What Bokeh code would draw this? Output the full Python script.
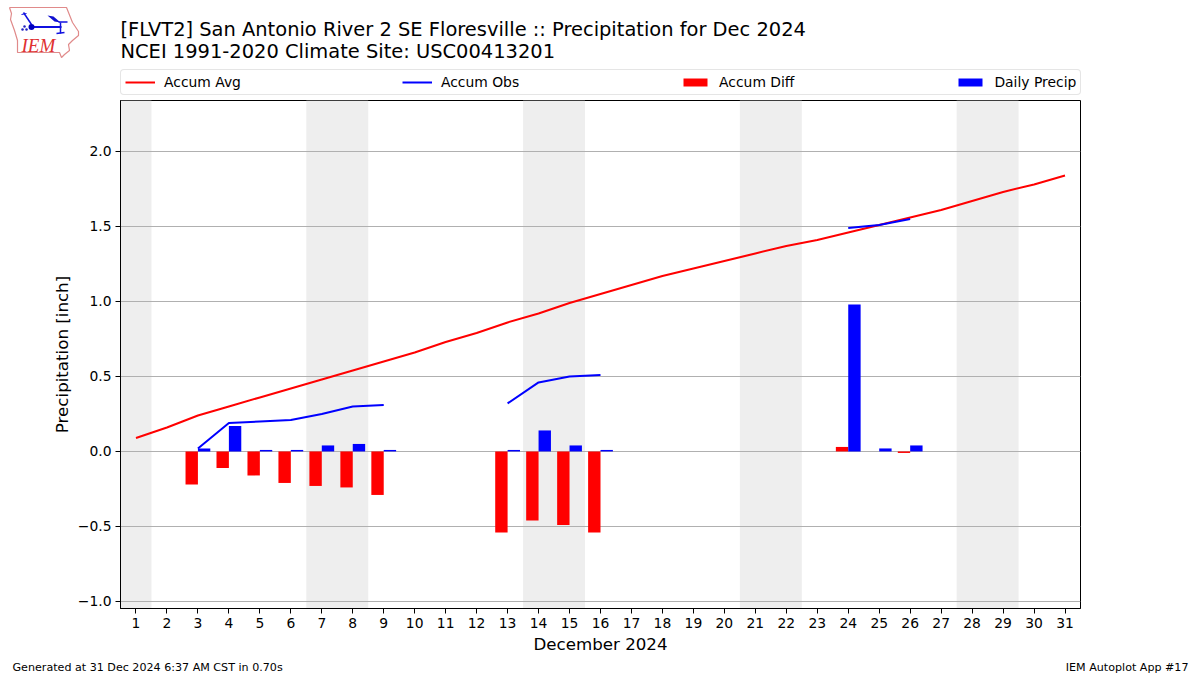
from bokeh.plotting import figure
from bokeh.embed import file_html
from bokeh.resources import INLINE
from bokeh.layouts import column
from bokeh.models import Legend, LegendItem, FixedTicker, ColumnDataSource
from bokeh.core.properties import value

nan = float("nan")
days = list(range(1, 32))
accum_avg = [0.09, 0.16, 0.24, 0.30, 0.36, 0.42, 0.48, 0.54, 0.60, 0.66, 0.73, 0.79, 0.86, 0.92, 0.99, 1.05,
             1.11, 1.17, 1.22, 1.27, 1.32, 1.37, 1.41, 1.46, 1.51, 1.56, 1.61, 1.67, 1.73, 1.78, 1.84]
accum_obs = [nan, nan, 0.02, 0.19, 0.20, 0.21, 0.25, 0.30, 0.31, nan, nan, nan, 0.32, 0.46, 0.50, 0.51,
             nan, nan, nan, nan, nan, nan, nan, 1.49, 1.51, 1.55, nan, nan, nan, nan, nan]
accum_diff = [nan, nan, -0.22, -0.11, -0.16, -0.21, -0.23, -0.24, -0.29, nan, nan, nan, -0.54, -0.46, -0.49, -0.54,
              nan, nan, nan, nan, nan, nan, nan, 0.03, 0.0, -0.01, nan, nan, nan, nan, nan]
daily_precip = [nan, nan, 0.02, 0.17, 0.01, 0.01, 0.04, 0.05, 0.01, nan, nan, nan, 0.01, 0.14, 0.04, 0.01,
                nan, nan, nan, nan, nan, nan, nan, 0.98, 0.02, 0.04, nan, nan, nan, nan, nan]
weekend_left = [0.5, 6.5, 13.5, 20.5, 27.5]
weekend_right = [1.5, 8.5, 15.5, 22.5, 29.5]
y_ticks = [-1.0, -0.5, 0.0, 0.5, 1.0, 1.5, 2.0]
title_lines = ["[FLVT2] San Antonio River 2 SE Floresville :: Precipitation for Dec 2024",
               "NCEI 1991-2020 Climate Site: USC00413201"]
x_title = "December 2024"
y_title = "Precipitation [inch]"
foot_left = "Generated at 31 Dec 2024 6:37 AM CST in 0.70s"
foot_right = "IEM Autoplot App #17"

FONT = "DejaVu Sans"
W = 1192
HEAD_H = 98
FOOT_H = 17
L, R, T, FRAME_H, B = 120, 112, 2, 508, 47
Y0, Y1 = -1.047, 2.3396


def blank(height):
    f = figure(width=W, height=height, output_backend="svg", toolbar_location=None,
               x_range=(0, W), y_range=(height, 0), x_axis_type=None, y_axis_type=None,
               min_border=0, min_border_left=0, min_border_right=0, min_border_top=0, min_border_bottom=0,
               frame_align=False)
    f.outline_line_color = None
    f.background_fill_color = "white"
    f.border_fill_color = "white"
    return f


head = blank(HEAD_H)
head.text(x=[120, 120], y=[29, 51], text=title_lines, text_font=value(FONT), text_font_size="19.46px",
          text_color="black", text_baseline="alphabetic", text_align="left")
# logo, drawn in page pixels
iowa_x = [9, 66, 68, 72, 78, 78, 72, 68, 69, 64, 61, 59, 17, 17, 14, 10, 11, 9]
iowa_y = [7, 7, 12, 22, 31, 35, 40, 44, 50, 54, 57, 52, 52, 40, 30, 19, 13, 7]
head.line(iowa_x, iowa_y, line_color="#e08a8a", line_width=1.2)
head.line([31, 61], [26.5, 26.5], line_color="#1010e0", line_width=2)
head.line([31, 23], [24, 12], line_color="#1010e0", line_width=1.5)
head.line([21, 26], [14, 13], line_color="#1010e0", line_width=1)
head.scatter([31], [26.5], size=6, fill_color="#0000c0", line_color=None)
head.patch([47, 53, 60, 54], [15, 16, 22, 21], fill_color="#1010d0", line_color=None)
head.line([58, 67], [21.5, 21.5], line_color="#1010e0", line_width=1.5)
head.line([60, 60], [22, 33], line_color="#1010e0", line_width=1.5)
head.line([56, 64], [33, 32], line_color="#1010e0", line_width=1.5)
head.scatter([24, 22, 26], [26, 29, 29], size=2.5, fill_color="#2020c0", line_color=None)
head.text(x=[21], y=[45], text=["IEM"], text_font=value("Liberation Serif"), text_font_style="italic",
          text_font_size="19px", text_color="#e03030", text_baseline="alphabetic", text_align="left")

# legend keys live in the header figure, above the plot frame
key_avg = head.line([nan, nan], [nan, nan], line_color="#ff0000", line_width=2)
key_obs = head.line([nan, nan], [nan, nan], line_color="#0000ff", line_width=2)
key_diff = head.vbar(x=[nan], top=[nan], width=1, fill_color="#ff0000", line_color=None)
key_prec = head.vbar(x=[nan], top=[nan], width=1, fill_color="#0000ff", line_color=None)
legend = Legend(items=[LegendItem(label="Accum Avg", renderers=[key_avg]),
                       LegendItem(label="Accum Obs", renderers=[key_obs]),
                       LegendItem(label="Accum Diff", renderers=[key_diff]),
                       LegendItem(label="Daily Precip", renderers=[key_prec])],
                orientation="horizontal", location=(120, 3), spacing=161,
                glyph_width=30, glyph_height=10, label_standoff=9, label_height=15,
                label_text_font=FONT, label_text_font_size="13.89px", label_text_color="black",
                border_line_color="#cccccc", border_line_width=1,
                background_fill_alpha=1, margin=0, padding=4)
if "border_radius" in Legend.properties():
    legend.border_radius = 4
head.add_layout(legend, "center")

p = figure(width=W, height=T + FRAME_H + B, output_backend="svg", toolbar_location=None,
           x_range=(0.5, 31.5), y_range=(Y0, Y1),
           min_border_left=L, min_border_right=R, min_border_top=T, min_border_bottom=B,
           frame_width=W - L - R, frame_height=FRAME_H, frame_align=False)
p.outline_line_color = "black"
p.outline_line_width = 1
p.background_fill_color = "white"
p.border_fill_color = "white"

p.xgrid.visible = False
p.ygrid.grid_line_color = "#b0b0b0"
p.ygrid.grid_line_width = 1.1
p.ygrid.ticker = FixedTicker(ticks=y_ticks)

p.xaxis.ticker = FixedTicker(ticks=days)
p.yaxis.ticker = FixedTicker(ticks=y_ticks)
p.yaxis.major_label_overrides = {t: f"{t:.1f}".replace("-", "\u2212") for t in y_ticks}
for ax in (p.xaxis[0], p.yaxis[0]):
    ax.minor_tick_line_color = None
    ax.major_tick_in = 0
    ax.major_tick_out = 5
    ax.major_label_text_font = FONT
    ax.major_label_text_font_size = "13.89px"
    ax.major_label_text_color = "black"
    ax.major_label_standoff = 4
    ax.axis_label_text_font = FONT
    ax.axis_label_text_font_size = "16.67px"
    ax.axis_label_text_font_style = "normal"
    ax.axis_label_text_color = "black"
    ax.axis_line_color = "black"
p.xaxis.axis_label = x_title
p.yaxis.axis_label = y_title
p.xaxis.axis_label_standoff = 4
p.yaxis.axis_label_standoff = 3

p.quad(left=weekend_left, right=weekend_right, bottom=Y0, top=Y1,
       fill_color="#eeeeee", line_color=None, level="image")

src = ColumnDataSource(dict(
    day=days, avg=accum_avg, obs=accum_obs,
    diff=accum_diff, precip=daily_precip,
    diff_x=[d - 0.2 for d in days], precip_x=[d + 0.2 for d in days],
))
p.vbar(x="diff_x", width=0.4, top="diff", bottom=0, source=src, fill_color="#ff0000", line_color=None)
p.vbar(x="precip_x", width=0.4, top="precip", bottom=0, source=src, fill_color="#0000ff", line_color=None)
p.line("day", "avg", source=src, line_color="#ff0000", line_width=2)
p.line("day", "obs", source=src, line_color="#0000ff", line_width=2)

foot = blank(FOOT_H)
foot.text(x=[12], y=[11], text=[foot_left], text_font=value(FONT), text_font_size="11.11px", text_color="black",
          text_baseline="alphabetic", text_align="left")
foot.text(x=[1188], y=[11], text=[foot_right], text_font=value(FONT), text_font_size="11.11px", text_color="black",
          text_baseline="alphabetic", text_align="right")

page = column(head, p, foot, spacing=0)
open("out.html", "w").write(file_html(page, INLINE))
